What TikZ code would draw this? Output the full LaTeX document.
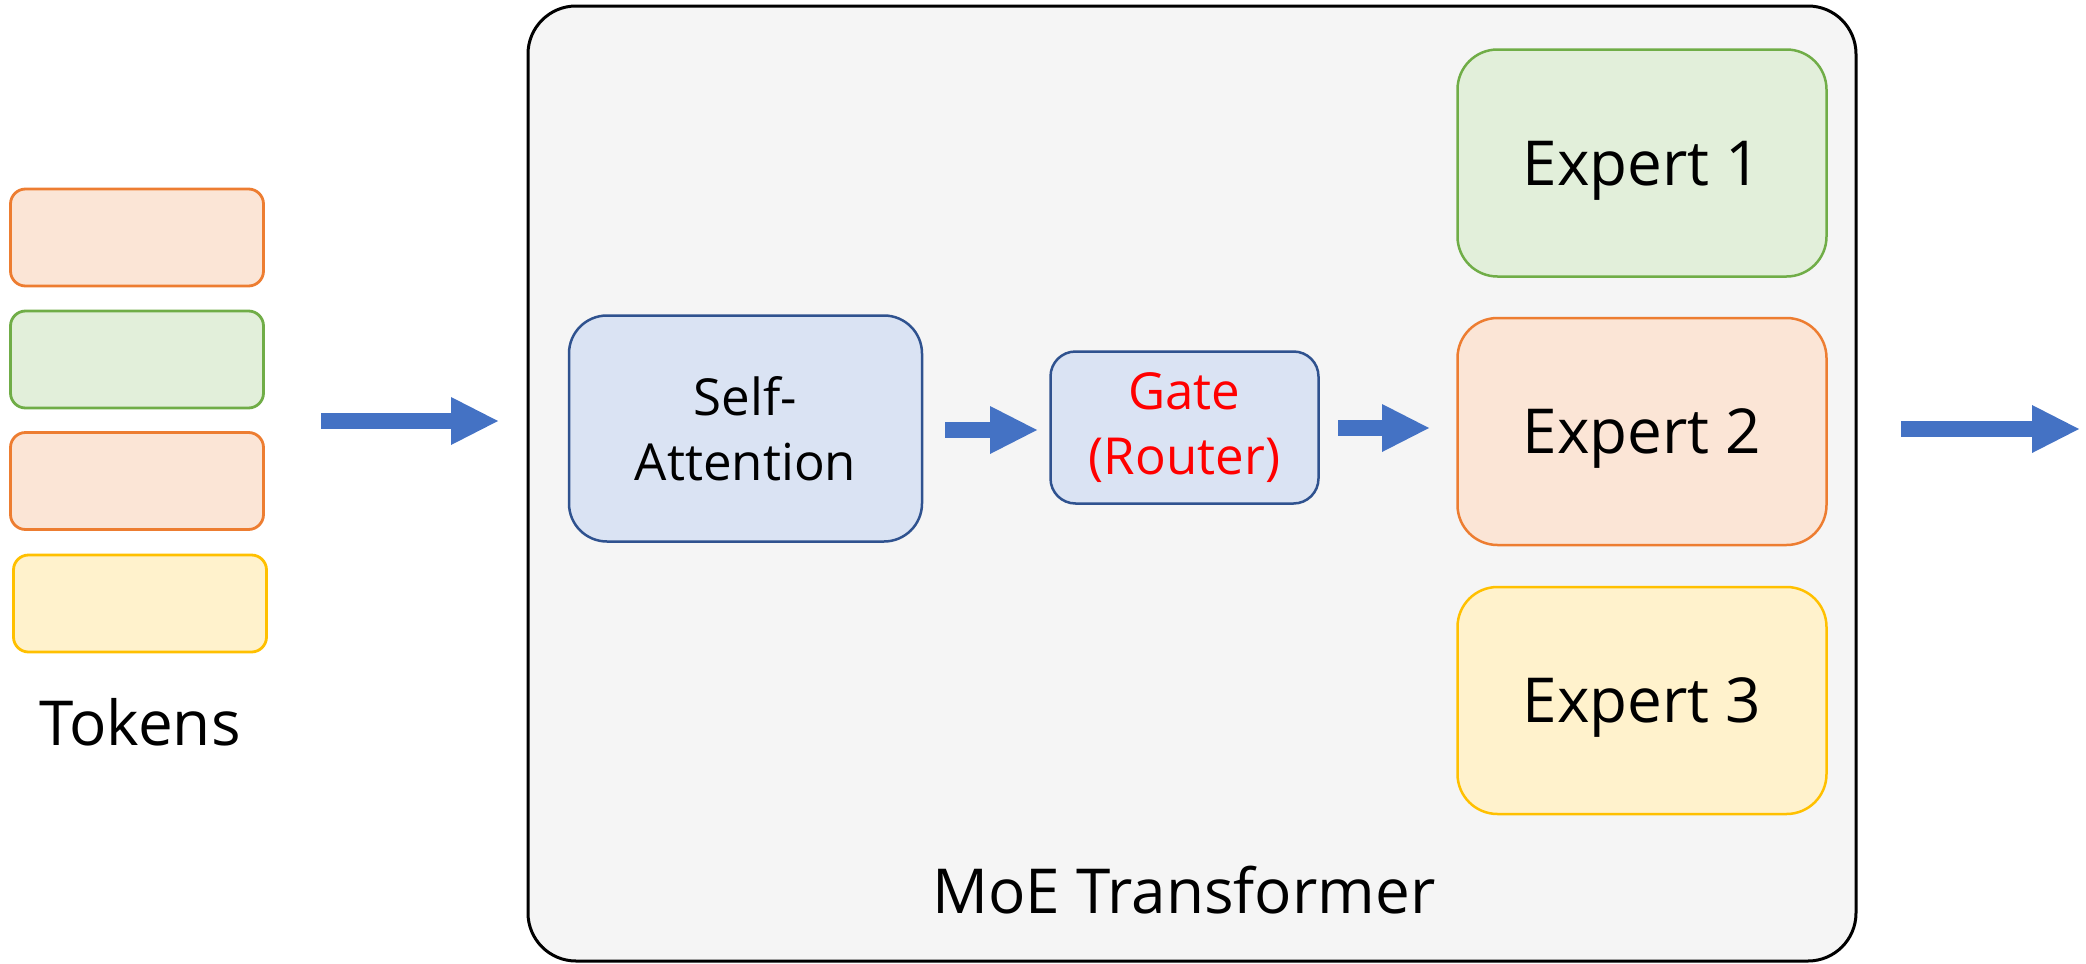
\documentclass[tikz,border=0pt]{standalone}
\usepackage{fontspec}
\setmainfont{Open Sans}
\usetikzlibrary{arrows.meta}

\definecolor{arrowblue}{HTML}{4472C4}
\definecolor{orangeline}{HTML}{ED7D31}
\definecolor{orangefill}{HTML}{FBE5D6}
\definecolor{greenline}{HTML}{70AD47}
\definecolor{greenfill}{HTML}{E2EFDA}
\definecolor{yellowline}{HTML}{FFC000}
\definecolor{yellowfill}{HTML}{FFF2CC}
\definecolor{blueline}{HTML}{2F528F}
\definecolor{bluefill}{HTML}{DAE3F3}
\definecolor{panelfill}{HTML}{F5F5F5}
\definecolor{gatered}{HTML}{FF0000}

\tikzset{
  token/.style={draw, line width=2.8pt, rounded corners=15pt, inner sep=0pt,
    minimum width=253pt, minimum height=97pt},
  orangebox/.style={draw=orangeline, fill=orangefill},
  greenbox/.style={draw=greenline, fill=greenfill},
  yellowbox/.style={draw=yellowline, fill=yellowfill},
  bluebox/.style={draw=blueline, fill=bluefill, line width=2.5pt, inner sep=0pt, align=center,
    font=\fontsize{51}{65}\selectfont},
  expert/.style={line width=2.5pt, rounded corners=40pt, inner sep=0pt,
    minimum width=369pt, minimum height=227pt,
    font=\fontsize{62}{74}\selectfont, text height=44pt, text depth=0pt},
  biglabel/.style={font=\fontsize{62}{74}\selectfont, anchor=base, inner sep=0pt},
  blockarrow/.style={draw=arrowblue, line width=16pt,
    -{Triangle[length=47pt, width=48pt, line width=0pt]}},
}

\begin{document}
\begin{tikzpicture}[x=1pt, y=-1pt]
  \useasboundingbox (0,0) rectangle (2086,964);

  % Input tokens
  \node[token, orangebox] (t1) at (137,237.5) {};
  \node[token, greenbox]  (t2) at (137,359.5) {};
  \node[token, orangebox] (t3) at (137,481) {};
  \node[token, yellowbox] (t4) at (140,603.5) {};
  \node[biglabel] (tokens) at (140,745) {Tokens};

  % MoE transformer block
  \draw[line width=3pt, fill=panelfill, rounded corners=48pt] (528,6) rectangle (1856,961);
  \node[biglabel] (moe) at (1184,913) {MoE Transformer};

  \node[bluebox, rounded corners=38pt, minimum width=353pt, minimum height=226pt]
    (sa) at (745.5,428.5) {Self-\\Attention};
  \node[bluebox, rounded corners=25pt, minimum width=268pt, minimum height=152pt,
    text=gatered] (gate) at (1184.5,427.5) {Gate\\(Router)};

  \node[expert, greenbox]  (e1) at (1642,163) {Expert 1};
  \node[expert, orangebox] (e2) at (1642,431.5) {Expert 2};
  \node[expert, yellowbox] (e3) at (1642,700.5) {Expert 3};

  % Flow arrows
  \coordinate (a1s) at (321,421);  \coordinate (a1e) at (498,421);
  \coordinate (a2s) at (945,430);  \coordinate (a2e) at (1037,430);
  \coordinate (a3s) at (1338,428); \coordinate (a3e) at (1429,428);
  \coordinate (a4s) at (1901,429); \coordinate (a4e) at (2079,429);
  \draw[blockarrow] (a1s) -- (a1e);
  \draw[blockarrow] (a2s) -- (a2e);
  \draw[blockarrow] (a3s) -- (a3e);
  \draw[blockarrow] (a4s) -- (a4e);
\end{tikzpicture}
\end{document}
